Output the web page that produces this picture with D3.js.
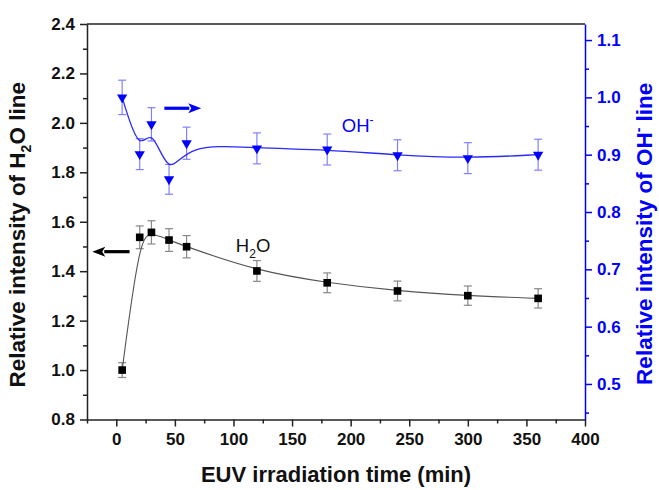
<!DOCTYPE html>
<html><head><meta charset="utf-8">
<script src="https://cdn.jsdelivr.net/npm/d3@7"></script>
<style>
html,body{margin:0;padding:0;background:#fff;}
svg{display:block;font-family:"Liberation Sans",Arial,sans-serif;}
</style></head>
<body><svg id="c" width="659" height="490"></svg>
<script>
// ---- data ----
const times   = [5, 20, 30, 45, 60, 120, 180, 240, 300, 360];
const h2o     = [1.00, 1.537, 1.557, 1.526, 1.499, 1.401, 1.353, 1.320, 1.301, 1.290];
const h2oErr  = [0.030, 0.046, 0.047, 0.046, 0.045, 0.042, 0.040, 0.040, 0.039, 0.039];
const oh      = [1.00, 0.901, 0.953, 0.857, 0.920, 0.911, 0.909, 0.899, 0.894, 0.900];
const ohErr   = [0.030, 0.027, 0.029, 0.026, 0.028, 0.027, 0.027, 0.027, 0.027, 0.027];
const xTicks  = [0, 50, 100, 150, 200, 250, 300, 350, 400];
const yLTicks = [0.8, 1.0, 1.2, 1.4, 1.6, 1.8, 2.0, 2.2, 2.4];
const yRTicks = [0.5, 0.6, 0.7, 0.8, 0.9, 1.0, 1.1];

// ---- layout ----
const L = 87, R = 585, T = 24, B = 419.5;
const BLUE = "#0000ff";
const svg = d3.select("#c");
const x  = d3.scaleLinear().domain([-25, 400]).range([L, R]);
const yL = d3.scaleLinear().domain([0.8, 2.4]).range([B, T]);
const yR = d3.scaleLinear().domain([0.438, 1.128]).range([B, T]);

// frame top
svg.append("line").attr("x1", L).attr("x2", R).attr("y1", T).attr("y2", T)
  .attr("stroke", "#222").attr("stroke-width", 1.5);

// bottom axis
const xMinor = d3.range(-25, 401, 25).filter(v => !xTicks.includes(v));
const gx = svg.append("g").attr("transform", `translate(0,${B})`);
gx.call(d3.axisBottom(x).tickValues(xMinor).tickSize(4).tickFormat(""));
gx.call(g => g.select(".domain").remove());
const gx2 = svg.append("g").attr("transform", `translate(0,${B})`)
  .call(d3.axisBottom(x).tickValues(xTicks).tickSize(7).tickSizeOuter(0).tickPadding(6).tickFormat(d3.format("d")));
[gx, gx2].forEach(g => {
  g.selectAll("path,line").attr("stroke", "#222").attr("stroke-width", 1.5);
  g.selectAll("text").attr("fill", "#111").attr("font-size", 17).attr("font-weight", "bold")
    .attr("font-family", "Liberation Sans, Arial, sans-serif");
});

// left axis
const yLMinor = d3.range(0.9, 2.4, 0.2);
const gl = svg.append("g").attr("transform", `translate(${L},0)`)
  .call(d3.axisLeft(yL).tickValues(yLMinor).tickSize(4).tickFormat(""));
gl.select(".domain").remove();
const gl2 = svg.append("g").attr("transform", `translate(${L},0)`)
  .call(d3.axisLeft(yL).tickValues(yLTicks).tickSize(7).tickSizeOuter(0).tickPadding(5).tickFormat(d3.format(".1f")));
[gl, gl2].forEach(g => {
  g.selectAll("path,line").attr("stroke", "#222").attr("stroke-width", 1.5);
  g.selectAll("text").attr("fill", "#111").attr("font-size", 17).attr("font-weight", "bold")
    .attr("font-family", "Liberation Sans, Arial, sans-serif");
});

// right axis
const yRMinor = [0.45, 0.55, 0.65, 0.75, 0.85, 0.95, 1.05];
const gr = svg.append("g").attr("transform", `translate(${R},0)`)
  .call(d3.axisRight(yR).tickValues(yRMinor).tickSize(4).tickFormat(""));
gr.select(".domain").remove();
const gr2 = svg.append("g").attr("transform", `translate(${R},0)`)
  .call(d3.axisRight(yR).tickValues(yRTicks).tickSize(7).tickSizeOuter(0).tickPadding(5).tickFormat(d3.format(".1f")));
[gr, gr2].forEach(g => {
  g.selectAll("path,line").attr("stroke", BLUE).attr("stroke-width", 1.5);
  g.selectAll("text").attr("fill", BLUE).attr("font-size", 17).attr("font-weight", "bold")
    .attr("font-family", "Liberation Sans, Arial, sans-serif");
});

// ---- series ----
const h2oData = times.map((t, i) => ({t, v: h2o[i], e: h2oErr[i]}));
const ohData  = times.map((t, i) => ({t, v: oh[i], e: ohErr[i]}));

function errorBars(data, y, color) {
  const g = svg.append("g").attr("stroke", color).attr("stroke-width", 1.2).attr("fill", "none");
  data.forEach(d => {
    const cx = x(d.t), y1 = y(d.v + d.e), y2 = y(d.v - d.e);
    g.append("line").attr("x1", cx).attr("x2", cx).attr("y1", y1).attr("y2", y2);
    g.append("line").attr("x1", cx - 4).attr("x2", cx + 4).attr("y1", y1).attr("y2", y1);
    g.append("line").attr("x1", cx - 4).attr("x2", cx + 4).attr("y1", y2).attr("y2", y2);
  });
}
errorBars(h2oData, yL, "#888");
errorBars(ohData, yR, "#8080ff");

svg.append("path").datum(h2oData)
  .attr("d", d3.line().x(d => x(d.t)).y(d => yL(d.v)).curve(d3.curveBasis))
  .attr("fill", "none").attr("stroke", "#555").attr("stroke-width", 1.1);
svg.append("path").datum(ohData)
  .attr("d", d3.line().x(d => x(d.t)).y(d => yR(d.v)).curve(d3.curveBasis))
  .attr("fill", "none").attr("stroke", "#2a2aff").attr("stroke-width", 1.3);

svg.append("g").selectAll("path").data(h2oData).join("path")
  .attr("transform", d => `translate(${x(d.t)},${yL(d.v)})`)
  .attr("d", d3.symbol().type(d3.symbolSquare).size(58)())
  .attr("fill", "#000");
svg.append("g").selectAll("path").data(ohData).join("path")
  .attr("transform", d => `translate(${x(d.t)},${yR(d.v)}) rotate(180)`)
  .attr("d", d3.symbol().type(d3.symbolTriangle).size(46)())
  .attr("fill", BLUE);

// ---- annotations ----
function arrow(x1, x2, yy, color) {
  const dir = Math.sign(x2 - x1);
  const head = 13, hw = 5;
  svg.append("line").attr("x1", x1).attr("x2", x2 - dir * head + dir * 1).attr("y1", yy).attr("y2", yy)
    .attr("stroke", color).attr("stroke-width", 3.2);
  svg.append("path")
    .attr("d", `M${x2},${yy} L${x2 - dir * head},${yy - hw} L${x2 - dir * head + dir * 3},${yy} L${x2 - dir * head},${yy + hw} Z`)
    .attr("fill", color);
}
arrow(x(41), x(72.5), yR(0.981), BLUE);
arrow(x(11.3), x(-20.5), yL(1.479), "#000");

const h2oLbl = svg.append("text").attr("x", x(102)).attr("y", yL(1.478))
  .attr("font-size", 18.5).attr("fill", "#111");
h2oLbl.append("tspan").text("H");
h2oLbl.append("tspan").text("2").attr("font-size", 12).attr("dy", 6);
h2oLbl.append("tspan").text("O").attr("dy", -6);

const ohLbl = svg.append("text").attr("x", x(192.5)).attr("y", yR(0.939))
  .attr("font-size", 18.5).attr("fill", BLUE);
ohLbl.append("tspan").text("OH");
ohLbl.append("tspan").text("-").attr("font-size", 12).attr("dy", -8);

// ---- axis titles ----
svg.append("text").attr("x", (L + R) / 2).attr("y", 482)
  .attr("text-anchor", "middle").attr("font-size", 22).attr("font-weight", "bold").attr("fill", "#111")
  .text("EUV irradiation time (min)");

const lt = svg.append("text").attr("transform", `translate(25,${(T + B) / 2 + 13}) rotate(-90)`)
  .attr("text-anchor", "middle").attr("font-size", 22.5).attr("font-weight", "bold").attr("fill", "#111");
lt.append("tspan").text("Relative intensity of H");
lt.append("tspan").text("2").attr("font-size", 14).attr("dy", 6);
lt.append("tspan").text("O line").attr("dy", -6);

const rt = svg.append("text").attr("transform", `translate(652,${(T + B) / 2 + 12}) rotate(-90)`)
  .attr("text-anchor", "middle").attr("font-size", 22.5).attr("font-weight", "bold").attr("fill", BLUE);
rt.append("tspan").text("Relative intensity of OH");
rt.append("tspan").text("-").attr("font-size", 14).attr("dy", -9);
rt.append("tspan").text(" line").attr("dy", 9);
</script>
</body></html>
